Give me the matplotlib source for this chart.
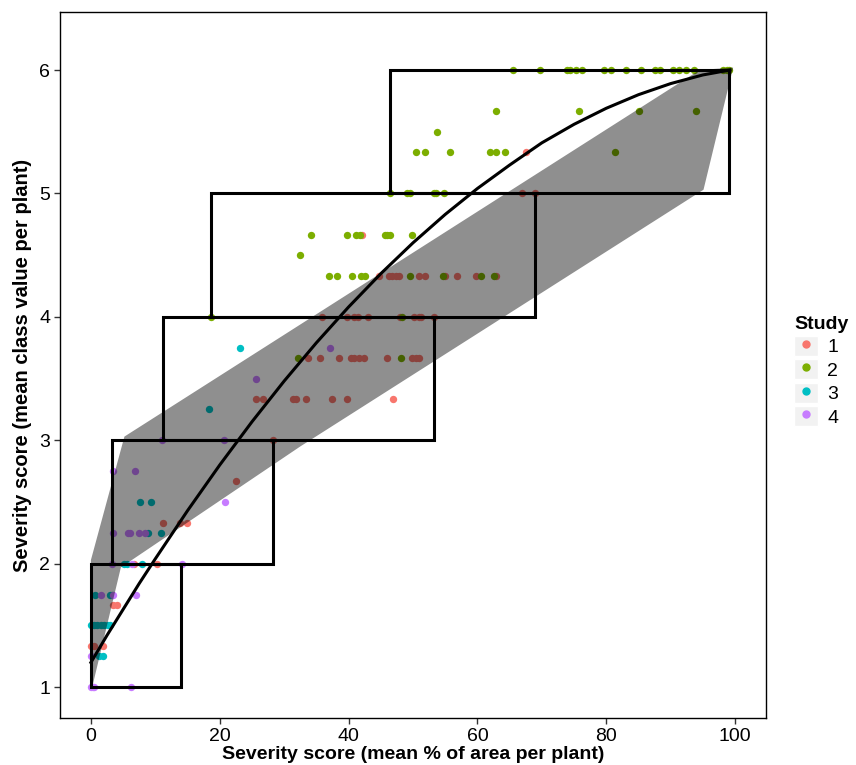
import matplotlib
matplotlib.use("Agg")
import matplotlib.pyplot as plt
from matplotlib.patches import Polygon, Rectangle
from matplotlib.lines import Line2D
from matplotlib.legend_handler import HandlerTuple

plt.rcParams['font.family'] = ['Liberation Sans', 'DejaVu Sans']

T = 1.0 / 3

# --- study points (x = mean % area, y = mean class value) ---
s1_x = [67.6, 66.9, 68.9, 42.1,
        44.7, 46.2, 46.8, 47.3, 47.9, 51.0, 51.9, 55.0, 56.8, 59.8, 62.9,
        35.9, 39.8, 40.9, 41.4, 43.0, 48.0, 50.2, 50.9, 51.3, 53.2,
        33.7, 35.5, 38.5, 40.3, 40.9, 41.6, 42.4, 45.9, 49.9, 50.5, 51.0,
        25.7, 26.7, 31.3, 31.8, 33.4, 37.5, 39.8, 46.9,
        28.2, 22.5, 11.2, 13.8, 14.9, 6.7, 10.2, 3.4, 4.1, 0.0, 0.5, 1.8]
s1_y = [5 + T, 5, 5, 4 + 2 * T] + [4 + T] * 11 + [4] * 10 + [3 + 2 * T] * 11 + \
       [3 + T] * 8 + [3, 2 + 2 * T, 2 + T, 2 + T, 2 + T, 2, 2, 1 + 2 * T, 1 + 2 * T,
                      1 + T, 1 + T, 1 + T]

s2_x = [65.5, 69.7, 73.9, 74.3, 75.3, 76.2, 79.6, 80.8, 83.1, 85.4, 87.6, 88.4,
        90.4, 91.3, 92.4, 93.6, 98.2, 98.7, 99.1,
        62.9, 75.8, 85.1, 94.0,
        53.7,
        50.4, 51.8, 55.8, 61.9, 62.9, 64.3, 81.4,
        46.4, 49.1, 49.5, 53.2, 53.5, 54.8,
        34.2, 39.8, 41.2, 41.7, 45.6, 46.0, 46.4, 49.9,
        32.4,
        36.9, 38.2, 40.5, 41.9, 42.6, 49.5, 54.6, 60.5, 62.5,
        18.6, 48.3,
        32.1, 48.2]
s2_y = [6] * 19 + [5 + 2 * T] * 4 + [5.5] + [5 + T] * 7 + [5] * 6 + [4 + 2 * T] * 8 + \
       [4.5] + [4 + T] * 9 + [4] * 2 + [3 + 2 * T] * 2

s3_x = [23.2, 18.3, 7.6, 9.3, 8.8, 10.9, 5.2, 5.6, 7.9, 0.6, 2.9, 3.2,
        0.0, 0.5, 1.0, 1.6, 2.1, 2.6, 3.0, 1.3, 1.8]
s3_y = [3.75, 3.25, 2.5, 2.5, 2.25, 2.25, 2, 2, 2, 1.75, 1.75, 1.75] + [1.5] * 7 + [1.25] * 2

s4_x = [37.1, 25.7, 11.1, 20.6, 3.5, 6.8, 20.8, 3.5, 5.7, 6.1, 7.5, 8.4,
        3.2, 6.3, 14.1, 1.6, 3.5, 7.0, 0.0, 0.0, 0.3, 0.5, 6.2]
s4_y = [3.75, 3.5, 3, 3, 2.75, 2.75, 2.5] + [2.25] * 5 + [2] * 3 + [1.75] * 3 + [1.25] + [1] * 4

studies = ['1', '2', '3', '4']
colors = ['#F8766D', '#7CAE00', '#00BFC4', '#C77CFF']

# --- grey band outline ---
band_x = [0.0, 0.0, 5.2, 94.5, 99.7, 95.1, 32.5, 4.65, 0.2]
band_y = [1.03, 2.03, 3.03, 6.0, 6.02, 5.03, 2.95, 1.97, 1.0]

# --- class boxes: x range per class interval ---
box_lo = [0.0, 3.3, 11.2, 18.6, 46.4]
box_hi = [14.0, 28.3, 53.2, 68.9, 99.1]
box_y = [1, 2, 3, 4, 5]

# --- fitted curve ---
curve_x = [0, 2.5, 5, 7.5, 10, 15, 20, 25, 30, 35, 40, 45, 50, 55, 60, 65, 70,
           75, 80, 85, 90, 95, 99.2]
curve_y = [1.20, 1.42, 1.63, 1.84, 2.04, 2.43, 2.80, 3.15, 3.48, 3.79, 4.08, 4.35,
           4.60, 4.83, 5.04, 5.23, 5.41, 5.56, 5.69, 5.80, 5.89, 5.96, 6.00]

fig = plt.figure(figsize=(8.56, 7.65), dpi=100)
ax = fig.add_axes([60 / 856, 47 / 765, 706 / 856, 706 / 765])

for xs, ys, c in zip([s1_x, s2_x, s3_x, s4_x], [s1_y, s2_y, s3_y, s4_y], colors):
    ax.scatter(xs, ys, s=28, color=c, linewidths=0, zorder=2)

ax.add_patch(Polygon(list(zip(band_x, band_y)), closed=True, facecolor='black',
                     alpha=0.44, edgecolor='none', zorder=3))

for lo, hi, y0 in zip(box_lo, box_hi, box_y):
    ax.add_patch(Rectangle((lo, y0), hi - lo, 1, fill=False, edgecolor='black',
                           linewidth=2.2, zorder=4))

ax.plot(curve_x, curve_y, color='black', linewidth=2.2, zorder=5,
        solid_joinstyle='round')

ax.set_xlim(-4.8, 104.8)
ax.set_ylim(0.75, 6.47)
ax.set_xticks([0, 20, 40, 60, 80, 100])
ax.set_yticks([1, 2, 3, 4, 5, 6])
ax.tick_params(direction='out', length=4, width=1, color='#333333', labelsize=14,
               labelcolor='black', pad=3)
for sp in ax.spines.values():
    sp.set_color('black')
    sp.set_linewidth(1.0)

ax.set_xlabel('Severity score (mean % of area per plant)', fontsize=14,
              fontweight='bold', labelpad=1)
ax.set_ylabel('Severity score (mean class value per plant)', fontsize=14.5,
              fontweight='bold', labelpad=5)

handles = []
for c in colors:
    bg = Rectangle((0, 0), 1, 1, facecolor='#F2F2F2', edgecolor='white')
    dot = Line2D([], [], marker='o', linestyle='', color=c, markersize=5)
    handles.append((bg, dot))
leg = fig.legend(handles, studies, handler_map={tuple: HandlerTuple(ndivide=1)},
                 loc='upper left', bbox_to_anchor=(0.912, 0.605), frameon=False,
                 title='Study', fontsize=14, handlelength=1.2, handleheight=1.2,
                 labelspacing=0.15, handletextpad=0.5, borderpad=0.2)
leg.get_title().set_fontweight('bold')
leg.get_title().set_fontsize(14)
leg._legend_box.align = 'left'

fig.savefig('out.png', dpi=100)
